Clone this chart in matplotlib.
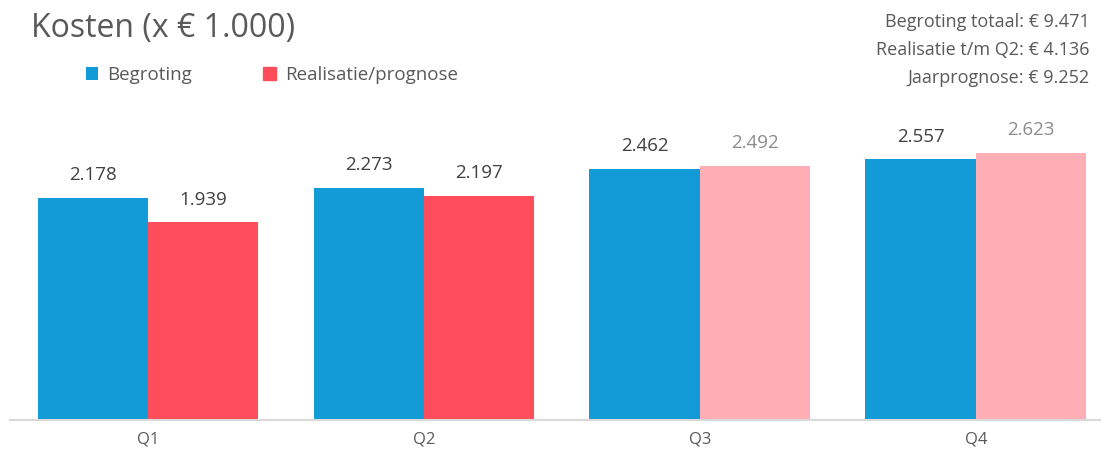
import matplotlib
matplotlib.use("Agg")
from matplotlib import pyplot as plt
import numpy as np

kwartalen = ['Q1', 'Q2', 'Q3', 'Q4']
begroting = [2.178, 2.273, 2.462, 2.557]
realisatie = [1.939, 2.197, 2.492, 2.623]
# Q1, Q2 realisatie; Q3, Q4 prognose
is_prognose = [False, False, True, True]
totaal_regels = ['Begroting totaal: € 9.471',
                 'Realisatie t/m Q2: € 4.136',
                 'Jaarprognose: € 9.252']

blauw = '#129BD6'
rood = '#FF4D5C'
roze = '#FFAEB6'
grijs = '#595959'

plt.rcParams['font.family'] = ['Open Sans', 'DejaVu Sans']

fig = plt.figure(figsize=(11.05, 4.59), dpi=100)
ax = fig.add_axes([10 / 1105, 39 / 459, 1090 / 1105, 320 / 459])

x = np.arange(len(kwartalen))
breedte = 0.4
b1 = ax.bar(x - breedte / 2, begroting, breedte, color=blauw, label='Begroting')
kleuren = [roze if p else rood for p in is_prognose]
b2 = ax.bar(x + breedte / 2, realisatie, breedte, color=kleuren, label='Realisatie/prognose')

def fmt(v):
    return f'{v:.3f}'

ax.bar_label(b1, labels=[fmt(v) for v in begroting], padding=10, fontsize=13.5, color='#404040')
lbl = ax.bar_label(b2, labels=[fmt(v) for v in realisatie], padding=10, fontsize=13.5)
for t, p in zip(lbl, is_prognose):
    t.set_color('#8C8C8C' if p else '#404040')

ax.set_xlim(-0.5, 3.45)
ax.set_ylim(0, 3.14)
ax.set_xticks(x)
ax.set_xticklabels(kwartalen, fontsize=12, color=grijs)
ax.tick_params(axis='x', length=0, pad=8)
ax.set_yticks([])
for s in ['top', 'right', 'left']:
    ax.spines[s].set_visible(False)
ax.spines['bottom'].set_color('#D9D9D9')
ax.spines['bottom'].set_linewidth(1.5)

fig.text(31 / 1105, 1 - 28 / 459, 'Kosten (x € 1.000)', fontsize=23, color=grijs, va='center')

leg = fig.legend(handles=[b1, b2], loc='center left', bbox_to_anchor=(69 / 1105, 1 - 75 / 459),
                 ncol=2, frameon=False, fontsize=13.5, handlelength=0.65, handleheight=0.65,
                 columnspacing=3.8, handletextpad=0.5)
for t in leg.get_texts():
    t.set_color(grijs)
leg.legend_handles[1].set_color(rood)

for i, regel in enumerate(totaal_regels):
    fig.text(1090 / 1105, 1 - (22 + 28 * i) / 459, regel, fontsize=13, color=grijs,
             ha='right', va='center')

fig.savefig('out.png', dpi=100, facecolor='white')
